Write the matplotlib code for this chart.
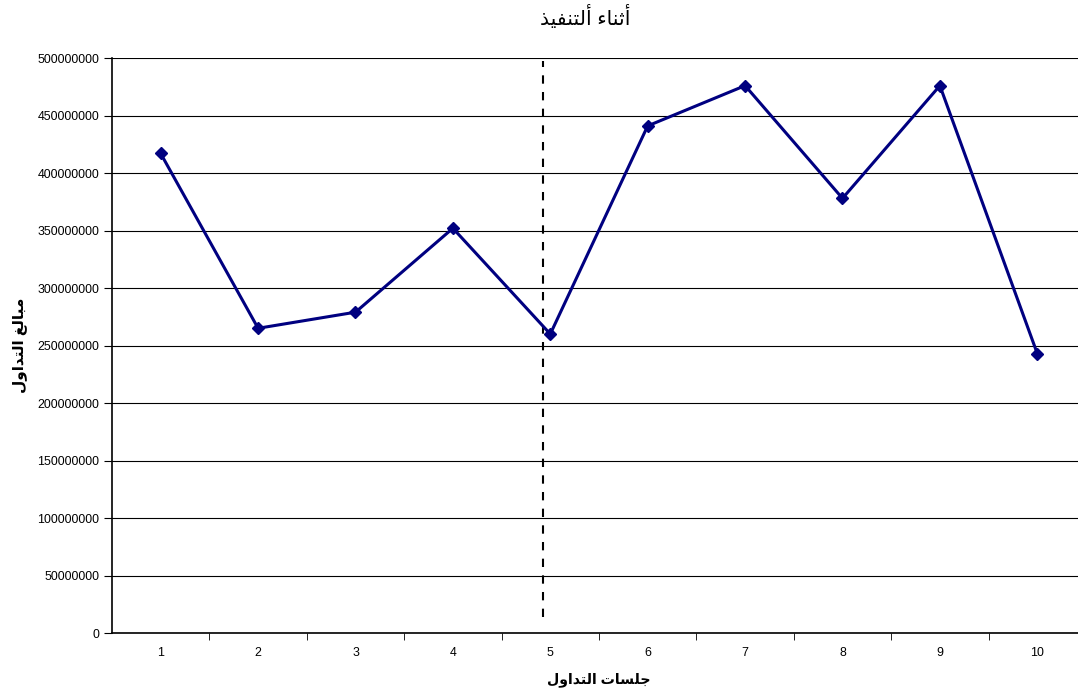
import matplotlib
matplotlib.use("Agg")
import matplotlib.pyplot as plt
from matplotlib.ticker import FuncFormatter, FixedLocator

plt.rcParams['font.family'] = ['Liberation Sans', 'DejaVu Sans']

# trading sessions and traded amounts
sessions = [1, 2, 3, 4, 5, 6, 7, 8, 9, 10]
amounts = [417e6, 265e6, 279e6, 352e6, 260e6, 441e6, 476e6, 378e6, 476e6, 243e6]

# arabic labels, pre-shaped (presentation forms, visual order)
title_txt = "\uFEAC\uFEF4\uFED4\uFEE8\uFE98\uFEDF\uFE83 \uFE80\uFE8E\uFEE8\uFE9B\uFE83"  # أثناء التنفيذ
xlabel_txt = "\uFEDD\uFEED\uFE8D\uFEAA\uFE98\uFEDF\uFE8D \uFE95\uFE8E\uFEB4\uFEE0\uFE9F"  # جلسات التداول
ylabel_txt = "\uFEDD\uFEED\uFE8D\uFEAA\uFE98\uFEDF\uFE8D \uFECE\uFEDF\uFE8E\uFE92\uFEE3"  # مبالغ التداول

fig = plt.figure(figsize=(10.78, 6.96), dpi=100)
ax = fig.add_axes([0.1039, 0.0905, 0.9035, 0.8261])

ax.set_axisbelow(True)
ax.yaxis.grid(True, color='black', linewidth=0.8)
ax.plot(sessions, amounts, color='#000080', linewidth=2.2, marker='D',
        markersize=6.5, zorder=3)

# split marker between the two phases
ax.plot([4.93, 4.93], [14e6, 497e6], color='black', linestyle=(0, (4, 4)),
        linewidth=1.5, zorder=2)

ax.set_xlim(0.5, 10.5)
ax.set_ylim(0, 500e6)
ax.set_yticks(range(0, 500000001, 50000000))
ax.yaxis.set_major_formatter(FuncFormatter(lambda v, p: '%d' % v))
ax.set_xticks(sessions)
ax.xaxis.set_minor_locator(FixedLocator([i + 0.5 for i in range(1, 10)]))
ax.tick_params(axis='x', which='major', length=0, pad=10, labelsize=8.9)
ax.tick_params(axis='x', which='minor', length=5, direction='out', color='black')
ax.tick_params(axis='y', length=6, direction='out', labelsize=8.9, pad=3)

for s in ['top', 'right']:
    ax.spines[s].set_visible(False)
for s in ['left', 'bottom']:
    ax.spines[s].set_linewidth(1.2)

fig.text(0.5427, 0.9756, title_txt, ha='center', va='center', fontsize=14.5)
fig.text(0.5557, 0.023, xlabel_txt, ha='center', va='center', fontsize=10.2,
         fontweight='bold')
fig.text(0.0186, 0.504, ylabel_txt, ha='center', va='center', fontsize=11,
         fontweight='bold', rotation=90)

fig.savefig('out.png', dpi=100)
